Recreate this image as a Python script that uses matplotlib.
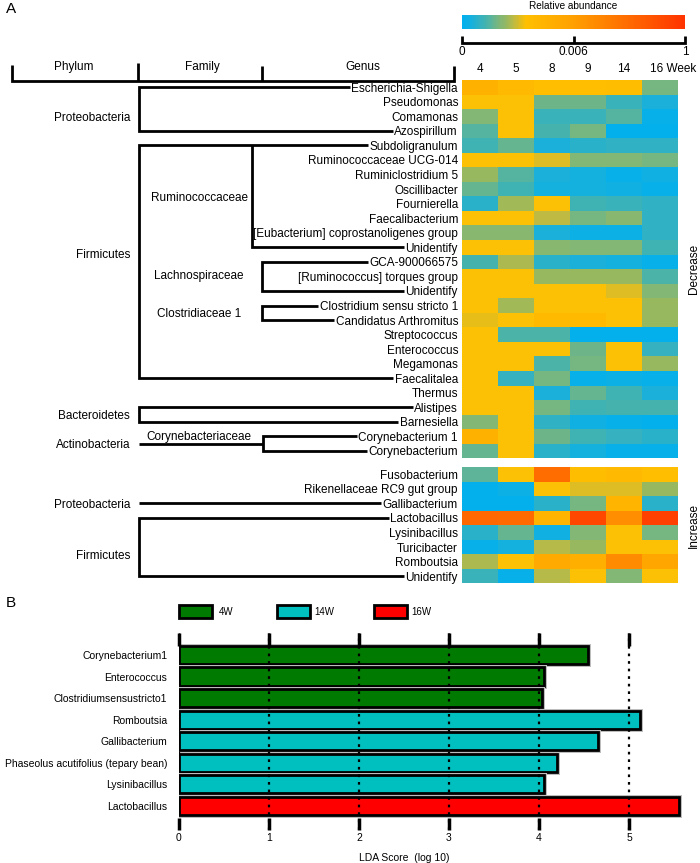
import matplotlib
matplotlib.use("Agg")
import matplotlib.pyplot as plt
from matplotlib.colors import LinearSegmentedColormap, TwoSlopeNorm
from matplotlib.cm import ScalarMappable
from matplotlib.patches import Rectangle
import matplotlib.patheffects as pe
import matplotlib.transforms as mtransforms
import numpy as np

plt.rcParams["font.family"] = ["Liberation Sans", "DejaVu Sans"]

# ---- data: panel A heatmap (relative abundance) ----
weeks = ["4", "5", "8", "9", "14", "16"]

genus_dec = [
    "Escherichia-Shigella", "Pseudomonas", "Comamonas", "Azospirillum",
    "Subdoligranulum", "Ruminococcaceae UCG-014", "Ruminiclostridium 5",
    "Oscillibacter", "Fournierella", "Faecalibacterium",
    "[Eubacterium] coprostanoligenes group", "Unidentify", "GCA-900066575",
    "[Ruminococcus] torques group", "Unidentify", "Clostridium sensu stricto 1",
    "Candidatus Arthromitus", "Streptococcus", "Enterococcus", "Megamonas",
    "Faecalitalea", "Thermus", "Alistipes", "Barnesiella",
    "Corynebacterium 1", "Corynebacterium",
]
abund_dec = [
    [0.0046, 0.0040, 0.0036, 0.0035, 0.0037, 0.0019],
    [0.0034, 0.0034, 0.0018, 0.0018, 0.0011, 0.0006],
    [0.0021, 0.0034, 0.0011, 0.0011, 0.0015, 0.0002],
    [0.0015, 0.0034, 0.0013, 0.0019, 0.0001, 0.0001],
    [0.0012, 0.0017, 0.0006, 0.0008, 0.0009, 0.0009],
    [0.0034, 0.0034, 0.0031, 0.0021, 0.0021, 0.0019],
    [0.0024, 0.0015, 0.0006, 0.0005, 0.0002, 0.0004],
    [0.0017, 0.0012, 0.0005, 0.0005, 0.0004, 0.0002],
    [0.0008, 0.0025, 0.0034, 0.0012, 0.0011, 0.0009],
    [0.0034, 0.0034, 0.0028, 0.0019, 0.0022, 0.0009],
    [0.0022, 0.0022, 0.0006, 0.0003, 0.0003, 0.0009],
    [0.0034, 0.0034, 0.0022, 0.0021, 0.0021, 0.0012],
    [0.0013, 0.0026, 0.0008, 0.0006, 0.0005, 0.0002],
    [0.0034, 0.0034, 0.0024, 0.0024, 0.0024, 0.0014],
    [0.0034, 0.0034, 0.0034, 0.0034, 0.0031, 0.0021],
    [0.0034, 0.0025, 0.0034, 0.0034, 0.0034, 0.0024],
    [0.0032, 0.0034, 0.0039, 0.0039, 0.0034, 0.0024],
    [0.0034, 0.0014, 0.0014, 0.0001, 0.0001, 0.0001],
    [0.0034, 0.0034, 0.0034, 0.0018, 0.0034, 0.0010],
    [0.0034, 0.0034, 0.0014, 0.0019, 0.0034, 0.0024],
    [0.0034, 0.0010, 0.0019, 0.0002, 0.0003, 0.0002],
    [0.0034, 0.0034, 0.0006, 0.0017, 0.0012, 0.0006],
    [0.0034, 0.0034, 0.0019, 0.0012, 0.0013, 0.0013],
    [0.0021, 0.0034, 0.0009, 0.0004, 0.0002, 0.0001],
    [0.0046, 0.0034, 0.0018, 0.0012, 0.0010, 0.0008],
    [0.0017, 0.0034, 0.0008, 0.0005, 0.0002, 0.0002],
]

genus_inc = [
    "Fusobacterium", "Rikenellaceae RC9 gut group", "Gallibacterium",
    "Lactobacillus", "Lysinibacillus", "Turicibacter", "Romboutsia", "Unidentify",
]
abund_inc = [
    [0.0016, 0.0034, 0.48, 0.0037, 0.0040, 0.0036],
    [0.0001, 0.0003, 0.0034, 0.0031, 0.0031, 0.0024],
    [0.0001, 0.0001, 0.0008, 0.0019, 0.0044, 0.0008],
    [0.52, 0.50, 0.0044, 0.82, 0.165, 0.88],
    [0.0008, 0.0017, 0.0004, 0.0021, 0.0034, 0.0019],
    [0.0002, 0.0005, 0.0027, 0.0024, 0.0034, 0.0034],
    [0.0026, 0.0034, 0.0052, 0.0048, 0.20, 0.0054],
    [0.0011, 0.0002, 0.0027, 0.0034, 0.0021, 0.0034],
]

# ---- data: panel B LDA scores ----
lda_names = [
    "Corynebacterium1", "Enterococcus", "Clostridiumsensustricto1", "Romboutsia",
    "Gallibacterium", "Phaseolus acutifolius (tepary bean)", "Lysinibacillus",
    "Lactobacillus",
]
lda_scores = [4.54, 4.05, 4.03, 5.12, 4.66, 4.2, 4.05, 5.55]
lda_groups = ["4W", "4W", "4W", "14W", "14W", "14W", "14W", "16W"]
group_names = ["4W", "14W", "16W"]
group_colors = {"4W": "#007a00", "14W": "#00bfbf", "16W": "#ff0000"}

# ---- colour scale ----
cmap = LinearSegmentedColormap.from_list("abund", [
    (0.00, "#00b0f0"), (0.04, "#14b0de"), (0.075, "#30b1c4"), (0.10, "#40b2b2"),
    (0.125, "#55b4a0"), (0.16, "#78b67e"), (0.20, "#98b860"), (0.225, "#b8ba48"),
    (0.255, "#d8bc28"), (0.285, "#ffc000"), (0.50, "#ffa000"), (0.75, "#ff6a00"),
    (1.00, "#ff3300"),
])
norm = TwoSlopeNorm(vmin=0, vcenter=0.006, vmax=1)

# ---- layout (pixels) ----
W, H = 700, 863
fig = plt.figure(figsize=(W / 100, H / 100), dpi=100)


def fx(px):
    return px / W


def fy(py):
    return 1 - py / H


heat_left, heat_right, heat_top = 462, 678, 80
row_h = 14.55
gap = 0.6
n_dec, n_inc = len(genus_dec), len(genus_inc)
total_rows = n_dec + gap + n_inc
heat_bottom = heat_top + total_rows * row_h
txt_dy = 0.1  # labels sit a touch below row centre

ax_heat = fig.add_axes([fx(heat_left), fy(heat_bottom), fx(heat_right - heat_left),
                        (heat_bottom - heat_top) / H])
ax_tree = fig.add_axes([0, fy(heat_bottom), fx(heat_left), (heat_bottom - heat_top) / H])
ov = fig.add_axes([0, 0, 1, 1])
ov.set_xlim(0, W)
ov.set_ylim(H, 0)
ov.axis("off")

# heatmap
xe = np.arange(len(weeks) + 1)
ax_heat.pcolormesh(xe, np.arange(n_dec + 1), np.array(abund_dec), cmap=cmap, norm=norm)
ax_heat.pcolormesh(xe, n_dec + gap + np.arange(n_inc + 1), np.array(abund_inc),
                   cmap=cmap, norm=norm)
ax_heat.set_xlim(0, len(weeks))
ax_heat.set_ylim(total_rows, 0)
ax_heat.axis("off")
for j, w in enumerate(weeks):
    if j == len(weeks) - 1:
        ax_heat.text(j + 0.22, -0.76, w + " Week", ha="left", va="center",
                     fontsize=8.5, clip_on=False)
    else:
        ax_heat.text(j + 0.5, -0.76, w, ha="center", va="center", fontsize=8.5,
                     clip_on=False)

# tree / labels
ax_tree.set_xlim(0, heat_left)
ax_tree.set_ylim(total_rows, 0)
ax_tree.axis("off")
y_dec = np.arange(n_dec) + 0.5
y_inc = n_dec + gap + np.arange(n_inc) + 0.5
lab_dec = [ax_tree.text(heat_left - 4, y + txt_dy, g, ha="right", va="center",
                        fontsize=8.5) for g, y in zip(genus_dec, y_dec)]
lab_inc = [ax_tree.text(heat_left - 4, y + txt_dy, g, ha="right", va="center",
                        fontsize=8.5) for g, y in zip(genus_inc, y_inc)]

phylum_labels = [("Proteobacteria", 2.5), ("Firmicutes", 11.9), ("Bacteroidetes", 23.0),
                 ("Actinobacteria", 25.0), ("Proteobacteria", y_inc[2]),
                 ("Firmicutes", 32.6)]
for name, y in phylum_labels:
    ax_tree.text(130, y + txt_dy, name, ha="right", va="center", fontsize=8.5)
family_labels = [("Ruminococcaceae", 8.0), ("Lachnospiraceae", 13.4),
                 ("Clostridiaceae 1", 15.95), ("Corynebacteriaceae", 24.47)]
for name, y in family_labels:
    ax_tree.text(199, y + txt_dy, name, ha="center", va="center", fontsize=8.5)

fig.canvas.draw()
renderer = fig.canvas.get_renderer()
inv = ax_tree.transData.inverted()


def left_of(t):
    bb = t.get_window_extent(renderer)
    return inv.transform((bb.x0, bb.y0))[0] - 1.5


lw = 2.0
kw = dict(color="black", lw=lw, solid_joinstyle="miter", solid_capstyle="butt")


def bracket(x, labs, ys):
    # two leaves joined by a vertical at x
    ax_tree.plot([left_of(labs[0]), x, x, left_of(labs[1])],
                 [ys[0], ys[0], ys[1], ys[1]], **kw)


# decrease block
bracket(139, [lab_dec[0], lab_dec[3]], [y_dec[0], y_dec[3]])
bracket(139, [lab_dec[4], lab_dec[20]], [y_dec[4], y_dec[20]])
ax_tree.plot([252, 252, left_of(lab_dec[11])], [y_dec[4], y_dec[11], y_dec[11]], **kw)
bracket(262, [lab_dec[12], lab_dec[14]], [y_dec[12], y_dec[14]])
bracket(262, [lab_dec[15], lab_dec[16]], [y_dec[15], y_dec[16]])
bracket(139, [lab_dec[22], lab_dec[23]], [y_dec[22], y_dec[23]])
ax_tree.plot([139, 263], [25.05, 25.05], **kw)
bracket(263, [lab_dec[24], lab_dec[25]], [y_dec[24], y_dec[25]])
# increase block
ax_tree.plot([139, left_of(lab_inc[2])], [y_inc[2], y_inc[2]], **kw)
bracket(139, [lab_inc[3], lab_inc[7]], [y_inc[3], y_inc[7]])

# header bracket
ov.plot([12, 12, 454, 454], [65, 81, 81, 66], **kw)
ov.plot([138, 138], [63, 81], **kw)
ov.plot([262, 262], [66, 81], **kw)
for name, x in [("Phylum", 74), ("Family", 202), ("Genus", 363)]:
    ov.text(x, 67, name, ha="center", va="center", fontsize=8.5)

# colour bar
cb_l, cb_r = 462, 685
cax = fig.add_axes([fx(cb_l), fy(29), fx(cb_r - cb_l), 14 / H])
cb = fig.colorbar(ScalarMappable(norm=norm, cmap=cmap), cax=cax, orientation="horizontal")
cb.set_ticks([])
cb.outline.set_visible(False)
ov.text((cb_l + cb_r) / 2, 6, "Relative abundance", ha="center", va="center", fontsize=7.2)
cb_ticks = [0, 0.006, 1]
cb_x = [cb_l + float(norm(v)) * (cb_r - cb_l) for v in cb_ticks]
ov.plot([cb_x[0], cb_x[0], cb_x[-1], cb_x[-1]], [36, 43, 43, 36], **kw)
ov.plot([cb_x[1], cb_x[1]], [36, 43], **kw)
for v, x in zip(cb_ticks, cb_x):
    ov.text(x, 52, f"{v:g}", ha="center", va="center", fontsize=8.5)

# side labels
ov.text(694, heat_top + n_dec / 2 * row_h, "Decrease", rotation=90, ha="center",
        va="center", fontsize=8.5)
ov.text(694, heat_top + (n_dec + gap + n_inc / 2) * row_h, "Increase", rotation=90,
        ha="center", va="center", fontsize=8.5)

# panel letters
ov.text(6, 2, "A", ha="left", va="top", fontsize=11)
ov.text(6, 596, "B", ha="left", va="top", fontsize=11)

# ---- panel B ----
b_left, unit, xmax = 179, 90, 5.6
b_top, b_bot = 633, 830
ax_b = fig.add_axes([fx(b_left), fy(b_bot), fx(unit * xmax), (b_bot - b_top) / H])
ypos = np.arange(len(lda_names))
bars = ax_b.barh(ypos, lda_scores, height=0.84,
                 color=[group_colors[g] for g in lda_groups],
                 edgecolor="black", linewidth=2)
for b in bars:
    b.set_path_effects([pe.Stroke(linewidth=3.6, foreground="#bdbdbd"), pe.Normal()])
ax_b.set_xlim(0, xmax)
ax_b.set_ylim(len(lda_names) - 1 + 1.12, -1.02)
ax_b.set_yticks(ypos)
ax_b.set_yticklabels(lda_names)
ax_b.tick_params(axis="y", length=0, pad=8.5, labelsize=7.5)
ax_b.set_xticks(range(6))
ax_b.tick_params(axis="x", direction="in", length=9, width=2.5, top=True, bottom=True,
                 labelsize=7.5, pad=2.5)
ax_b.set_axisbelow(False)
ax_b.grid(axis="x", color="black", linestyle=(0, (1.2, 2.2)), linewidth=1.6)
for s in ax_b.spines.values():
    s.set_visible(False)
ax_b.text(2.5, -0.142, "LDA Score  (log 10)", ha="center", va="center", fontsize=7.5,
          transform=mtransforms.blended_transform_factory(ax_b.transData, ax_b.transAxes))

# legend boxes
for g, x in zip(group_names, [179, 277, 374]):
    ov.add_patch(Rectangle((x, 605), 33, 13, facecolor=group_colors[g],
                           edgecolor="black", linewidth=2))
    ov.text(x + 47, 612, g, ha="center", va="center", fontsize=7)

fig.savefig("out.png", dpi=100)
